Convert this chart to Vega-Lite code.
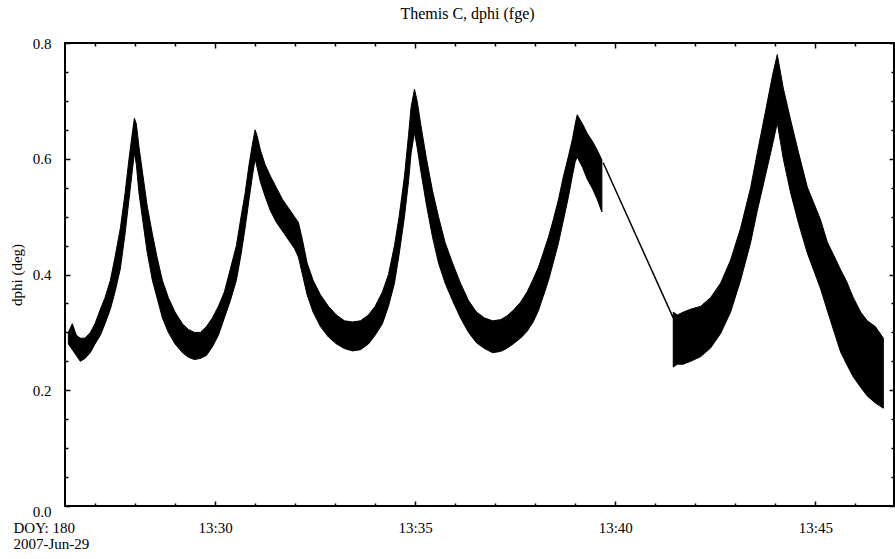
{
  "$schema": "https://vega.github.io/schema/vega-lite/v6.json",
  "width": 829,
  "height": 463,
  "autosize": {"type": "none"},
  "padding": {"left": 65, "top": 43, "right": 1, "bottom": 53},
  "background": "white",
  "title": {"text": "Themis C, dphi (fge)", "font": "Liberation Serif", "fontSize": 16, "fontWeight": "normal", "color": "black", "anchor": "middle", "offset": 14, "dx": -12},
  "config": {
    "font": "Liberation Serif",
    "view": {"stroke": "black", "strokeWidth": 2},
    "axis": {"labelFont": "Liberation Serif", "labelFontSize": 15, "labelColor": "black", "titleFont": "Liberation Serif", "titleFontSize": 15, "titleFontWeight": "normal", "titleColor": "black", "domain": false, "grid": false, "tickColor": "black", "tickWidth": 1.5}
  },
  "datasets": {
    "band": [
      {"segment": "A", "time": "2007-06-29T13:26:20Z", "hi": 0.300, "lo": 0.280},
      {"segment": "A", "time": "2007-06-29T13:26:26Z", "hi": 0.315, "lo": 0.270},
      {"segment": "A", "time": "2007-06-29T13:26:32Z", "hi": 0.295, "lo": 0.260},
      {"segment": "A", "time": "2007-06-29T13:26:38Z", "hi": 0.290, "lo": 0.250},
      {"segment": "A", "time": "2007-06-29T13:26:45Z", "hi": 0.290, "lo": 0.255},
      {"segment": "A", "time": "2007-06-29T13:26:53Z", "hi": 0.300, "lo": 0.265},
      {"segment": "A", "time": "2007-06-29T13:27:00Z", "hi": 0.315, "lo": 0.280},
      {"segment": "A", "time": "2007-06-29T13:27:08Z", "hi": 0.340, "lo": 0.295},
      {"segment": "A", "time": "2007-06-29T13:27:15Z", "hi": 0.360, "lo": 0.315},
      {"segment": "A", "time": "2007-06-29T13:27:23Z", "hi": 0.390, "lo": 0.340},
      {"segment": "A", "time": "2007-06-29T13:27:30Z", "hi": 0.430, "lo": 0.370},
      {"segment": "A", "time": "2007-06-29T13:27:38Z", "hi": 0.480, "lo": 0.410},
      {"segment": "A", "time": "2007-06-29T13:27:45Z", "hi": 0.540, "lo": 0.470},
      {"segment": "A", "time": "2007-06-29T13:27:51Z", "hi": 0.600, "lo": 0.530},
      {"segment": "A", "time": "2007-06-29T13:27:56Z", "hi": 0.645, "lo": 0.580},
      {"segment": "A", "time": "2007-06-29T13:27:59Z", "hi": 0.670, "lo": 0.610},
      {"segment": "A", "time": "2007-06-29T13:28:02Z", "hi": 0.660, "lo": 0.590},
      {"segment": "A", "time": "2007-06-29T13:28:06Z", "hi": 0.620, "lo": 0.540},
      {"segment": "A", "time": "2007-06-29T13:28:12Z", "hi": 0.570, "lo": 0.490},
      {"segment": "A", "time": "2007-06-29T13:28:18Z", "hi": 0.520, "lo": 0.440},
      {"segment": "A", "time": "2007-06-29T13:28:26Z", "hi": 0.470, "lo": 0.390},
      {"segment": "A", "time": "2007-06-29T13:28:33Z", "hi": 0.430, "lo": 0.360},
      {"segment": "A", "time": "2007-06-29T13:28:41Z", "hi": 0.390, "lo": 0.325},
      {"segment": "A", "time": "2007-06-29T13:28:50Z", "hi": 0.360, "lo": 0.300},
      {"segment": "A", "time": "2007-06-29T13:29:00Z", "hi": 0.335, "lo": 0.280},
      {"segment": "A", "time": "2007-06-29T13:29:11Z", "hi": 0.315, "lo": 0.265},
      {"segment": "A", "time": "2007-06-29T13:29:20Z", "hi": 0.305, "lo": 0.257},
      {"segment": "A", "time": "2007-06-29T13:29:29Z", "hi": 0.300, "lo": 0.253},
      {"segment": "A", "time": "2007-06-29T13:29:38Z", "hi": 0.300, "lo": 0.255},
      {"segment": "A", "time": "2007-06-29T13:29:47Z", "hi": 0.310, "lo": 0.260},
      {"segment": "A", "time": "2007-06-29T13:29:56Z", "hi": 0.325, "lo": 0.275},
      {"segment": "A", "time": "2007-06-29T13:30:05Z", "hi": 0.345, "lo": 0.295},
      {"segment": "A", "time": "2007-06-29T13:30:14Z", "hi": 0.370, "lo": 0.325},
      {"segment": "A", "time": "2007-06-29T13:30:23Z", "hi": 0.410, "lo": 0.355},
      {"segment": "A", "time": "2007-06-29T13:30:32Z", "hi": 0.450, "lo": 0.390},
      {"segment": "A", "time": "2007-06-29T13:30:39Z", "hi": 0.500, "lo": 0.435},
      {"segment": "A", "time": "2007-06-29T13:30:45Z", "hi": 0.540, "lo": 0.480},
      {"segment": "A", "time": "2007-06-29T13:30:51Z", "hi": 0.590, "lo": 0.530},
      {"segment": "A", "time": "2007-06-29T13:30:56Z", "hi": 0.625, "lo": 0.570},
      {"segment": "A", "time": "2007-06-29T13:31:00Z", "hi": 0.650, "lo": 0.600},
      {"segment": "A", "time": "2007-06-29T13:31:03Z", "hi": 0.640, "lo": 0.585},
      {"segment": "A", "time": "2007-06-29T13:31:08Z", "hi": 0.615, "lo": 0.560},
      {"segment": "A", "time": "2007-06-29T13:31:15Z", "hi": 0.590, "lo": 0.535},
      {"segment": "A", "time": "2007-06-29T13:31:23Z", "hi": 0.570, "lo": 0.510},
      {"segment": "A", "time": "2007-06-29T13:31:32Z", "hi": 0.550, "lo": 0.490},
      {"segment": "A", "time": "2007-06-29T13:31:41Z", "hi": 0.530, "lo": 0.475},
      {"segment": "A", "time": "2007-06-29T13:31:50Z", "hi": 0.515, "lo": 0.460},
      {"segment": "A", "time": "2007-06-29T13:31:59Z", "hi": 0.500, "lo": 0.445},
      {"segment": "A", "time": "2007-06-29T13:32:05Z", "hi": 0.490, "lo": 0.430},
      {"segment": "A", "time": "2007-06-29T13:32:11Z", "hi": 0.460, "lo": 0.400},
      {"segment": "A", "time": "2007-06-29T13:32:18Z", "hi": 0.420, "lo": 0.365},
      {"segment": "A", "time": "2007-06-29T13:32:27Z", "hi": 0.390, "lo": 0.335},
      {"segment": "A", "time": "2007-06-29T13:32:38Z", "hi": 0.365, "lo": 0.310},
      {"segment": "A", "time": "2007-06-29T13:32:50Z", "hi": 0.345, "lo": 0.292},
      {"segment": "A", "time": "2007-06-29T13:33:02Z", "hi": 0.330, "lo": 0.280},
      {"segment": "A", "time": "2007-06-29T13:33:14Z", "hi": 0.320, "lo": 0.272},
      {"segment": "A", "time": "2007-06-29T13:33:26Z", "hi": 0.318, "lo": 0.268},
      {"segment": "A", "time": "2007-06-29T13:33:38Z", "hi": 0.320, "lo": 0.270},
      {"segment": "A", "time": "2007-06-29T13:33:50Z", "hi": 0.330, "lo": 0.280},
      {"segment": "A", "time": "2007-06-29T13:34:00Z", "hi": 0.345, "lo": 0.295},
      {"segment": "A", "time": "2007-06-29T13:34:11Z", "hi": 0.370, "lo": 0.315},
      {"segment": "A", "time": "2007-06-29T13:34:20Z", "hi": 0.400, "lo": 0.345},
      {"segment": "A", "time": "2007-06-29T13:34:29Z", "hi": 0.450, "lo": 0.385},
      {"segment": "A", "time": "2007-06-29T13:34:36Z", "hi": 0.500, "lo": 0.435},
      {"segment": "A", "time": "2007-06-29T13:34:44Z", "hi": 0.570, "lo": 0.500},
      {"segment": "A", "time": "2007-06-29T13:34:50Z", "hi": 0.640, "lo": 0.560},
      {"segment": "A", "time": "2007-06-29T13:34:54Z", "hi": 0.690, "lo": 0.610},
      {"segment": "A", "time": "2007-06-29T13:34:59Z", "hi": 0.720, "lo": 0.645},
      {"segment": "A", "time": "2007-06-29T13:35:03Z", "hi": 0.700, "lo": 0.620},
      {"segment": "A", "time": "2007-06-29T13:35:09Z", "hi": 0.655, "lo": 0.575},
      {"segment": "A", "time": "2007-06-29T13:35:17Z", "hi": 0.600, "lo": 0.520},
      {"segment": "A", "time": "2007-06-29T13:35:26Z", "hi": 0.545, "lo": 0.465},
      {"segment": "A", "time": "2007-06-29T13:35:35Z", "hi": 0.500, "lo": 0.420},
      {"segment": "A", "time": "2007-06-29T13:35:45Z", "hi": 0.455, "lo": 0.385},
      {"segment": "A", "time": "2007-06-29T13:35:56Z", "hi": 0.420, "lo": 0.355},
      {"segment": "A", "time": "2007-06-29T13:36:08Z", "hi": 0.385, "lo": 0.325},
      {"segment": "A", "time": "2007-06-29T13:36:20Z", "hi": 0.355, "lo": 0.300},
      {"segment": "A", "time": "2007-06-29T13:36:32Z", "hi": 0.335, "lo": 0.282},
      {"segment": "A", "time": "2007-06-29T13:36:44Z", "hi": 0.325, "lo": 0.272},
      {"segment": "A", "time": "2007-06-29T13:36:56Z", "hi": 0.320, "lo": 0.265},
      {"segment": "A", "time": "2007-06-29T13:37:08Z", "hi": 0.322, "lo": 0.267},
      {"segment": "A", "time": "2007-06-29T13:37:17Z", "hi": 0.328, "lo": 0.272},
      {"segment": "A", "time": "2007-06-29T13:37:27Z", "hi": 0.338, "lo": 0.280},
      {"segment": "A", "time": "2007-06-29T13:37:38Z", "hi": 0.352, "lo": 0.290},
      {"segment": "A", "time": "2007-06-29T13:37:48Z", "hi": 0.370, "lo": 0.302},
      {"segment": "A", "time": "2007-06-29T13:37:57Z", "hi": 0.392, "lo": 0.318},
      {"segment": "A", "time": "2007-06-29T13:38:05Z", "hi": 0.413, "lo": 0.338},
      {"segment": "A", "time": "2007-06-29T13:38:12Z", "hi": 0.437, "lo": 0.362},
      {"segment": "A", "time": "2007-06-29T13:38:20Z", "hi": 0.465, "lo": 0.390},
      {"segment": "A", "time": "2007-06-29T13:38:27Z", "hi": 0.494, "lo": 0.420},
      {"segment": "A", "time": "2007-06-29T13:38:35Z", "hi": 0.530, "lo": 0.455},
      {"segment": "A", "time": "2007-06-29T13:38:42Z", "hi": 0.568, "lo": 0.492},
      {"segment": "A", "time": "2007-06-29T13:38:50Z", "hi": 0.605, "lo": 0.535},
      {"segment": "A", "time": "2007-06-29T13:38:56Z", "hi": 0.635, "lo": 0.572},
      {"segment": "A", "time": "2007-06-29T13:39:00Z", "hi": 0.660, "lo": 0.595},
      {"segment": "A", "time": "2007-06-29T13:39:03Z", "hi": 0.676, "lo": 0.603},
      {"segment": "A", "time": "2007-06-29T13:39:11Z", "hi": 0.660, "lo": 0.585},
      {"segment": "A", "time": "2007-06-29T13:39:18Z", "hi": 0.644, "lo": 0.565},
      {"segment": "A", "time": "2007-06-29T13:39:26Z", "hi": 0.630, "lo": 0.548},
      {"segment": "A", "time": "2007-06-29T13:39:33Z", "hi": 0.615, "lo": 0.530},
      {"segment": "A", "time": "2007-06-29T13:39:40Z", "hi": 0.598, "lo": 0.508},
      {"segment": "B", "time": "2007-06-29T13:41:27Z", "hi": 0.335, "lo": 0.240},
      {"segment": "B", "time": "2007-06-29T13:41:33Z", "hi": 0.330, "lo": 0.245},
      {"segment": "B", "time": "2007-06-29T13:41:42Z", "hi": 0.335, "lo": 0.245},
      {"segment": "B", "time": "2007-06-29T13:41:53Z", "hi": 0.340, "lo": 0.250},
      {"segment": "B", "time": "2007-06-29T13:42:08Z", "hi": 0.345, "lo": 0.258},
      {"segment": "B", "time": "2007-06-29T13:42:23Z", "hi": 0.360, "lo": 0.273},
      {"segment": "B", "time": "2007-06-29T13:42:38Z", "hi": 0.385, "lo": 0.298},
      {"segment": "B", "time": "2007-06-29T13:42:53Z", "hi": 0.425, "lo": 0.335},
      {"segment": "B", "time": "2007-06-29T13:43:08Z", "hi": 0.480, "lo": 0.390},
      {"segment": "B", "time": "2007-06-29T13:43:23Z", "hi": 0.550, "lo": 0.455},
      {"segment": "B", "time": "2007-06-29T13:43:33Z", "hi": 0.610, "lo": 0.510},
      {"segment": "B", "time": "2007-06-29T13:43:45Z", "hi": 0.680, "lo": 0.570},
      {"segment": "B", "time": "2007-06-29T13:43:56Z", "hi": 0.745, "lo": 0.625},
      {"segment": "B", "time": "2007-06-29T13:44:03Z", "hi": 0.780, "lo": 0.662},
      {"segment": "B", "time": "2007-06-29T13:44:12Z", "hi": 0.722, "lo": 0.600},
      {"segment": "B", "time": "2007-06-29T13:44:23Z", "hi": 0.667, "lo": 0.541},
      {"segment": "B", "time": "2007-06-29T13:44:35Z", "hi": 0.610, "lo": 0.488},
      {"segment": "B", "time": "2007-06-29T13:44:48Z", "hi": 0.551, "lo": 0.437},
      {"segment": "B", "time": "2007-06-29T13:44:59Z", "hi": 0.520, "lo": 0.403},
      {"segment": "B", "time": "2007-06-29T13:45:08Z", "hi": 0.494, "lo": 0.375},
      {"segment": "B", "time": "2007-06-29T13:45:18Z", "hi": 0.456, "lo": 0.338},
      {"segment": "B", "time": "2007-06-29T13:45:29Z", "hi": 0.430, "lo": 0.298},
      {"segment": "B", "time": "2007-06-29T13:45:38Z", "hi": 0.408, "lo": 0.266},
      {"segment": "B", "time": "2007-06-29T13:45:47Z", "hi": 0.388, "lo": 0.245},
      {"segment": "B", "time": "2007-06-29T13:45:57Z", "hi": 0.360, "lo": 0.223},
      {"segment": "B", "time": "2007-06-29T13:46:08Z", "hi": 0.335, "lo": 0.205},
      {"segment": "B", "time": "2007-06-29T13:46:18Z", "hi": 0.320, "lo": 0.190},
      {"segment": "B", "time": "2007-06-29T13:46:30Z", "hi": 0.310, "lo": 0.178},
      {"segment": "B", "time": "2007-06-29T13:46:42Z", "hi": 0.290, "lo": 0.169}
    ],
    "gap": [
      {"time": "2007-06-29T13:39:42Z", "dphi": 0.593},
      {"time": "2007-06-29T13:41:27Z", "dphi": 0.325}
    ]
  },
  "resolve": {"axis": {"x": "independent", "y": "independent"}},
  "layer": [
    {
      "data": {"name": "band"},
      "mark": {"type": "area", "color": "black", "stroke": "black", "strokeWidth": 1},
      "encoding": {
        "x": {"field": "time", "type": "temporal",
          "scale": {"type": "utc", "nice": false, "domain": [{"year": 2007, "month": 6, "date": 29, "hours": 13, "minutes": 26, "seconds": 15, "utc": true}, {"year": 2007, "month": 6, "date": 29, "hours": 13, "minutes": 46, "seconds": 58, "utc": true}]},
          "axis": {"orient": "bottom", "format": "%H:%M", "tickSize": -5, "labelPadding": 19,
            "values": [{"year": 2007, "month": 6, "date": 29, "hours": 13, "minutes": 30, "utc": true}, {"year": 2007, "month": 6, "date": 29, "hours": 13, "minutes": 35, "utc": true}, {"year": 2007, "month": 6, "date": 29, "hours": 13, "minutes": 40, "utc": true}, {"year": 2007, "month": 6, "date": 29, "hours": 13, "minutes": 45, "utc": true}],
            "title": ["DOY: 180", "2007-Jun-29"], "titleAnchor": "start", "titleAlign": "left", "titleX": -52, "titleY": 14, "titleBaseline": "top", "titleLineHeight": 16}},
        "y": {"field": "hi", "type": "quantitative",
          "scale": {"domain": [0, 0.8], "nice": false, "zero": false},
          "axis": {"orient": "left", "values": [0, 0.2, 0.4, 0.6, 0.8], "format": ".1f", "tickSize": -5, "labelPadding": 19, "labelOffset": {"condition": {"test": "datum.value === 0", "value": 5}, "value": 0}, "title": "dphi (deg)", "titlePadding": 8}},
        "y2": {"field": "lo"},
        "detail": {"field": "segment"}
      }
    },
    {
      "data": {"name": "gap"},
      "mark": {"type": "line", "color": "black", "strokeWidth": 1.5},
      "encoding": {
        "x": {"field": "time", "type": "temporal",
          "scale": {"type": "utc", "nice": false, "domain": [{"year": 2007, "month": 6, "date": 29, "hours": 13, "minutes": 26, "seconds": 15, "utc": true}, {"year": 2007, "month": 6, "date": 29, "hours": 13, "minutes": 46, "seconds": 58, "utc": true}]},
          "axis": {"orient": "top", "labels": false, "tickSize": -5, "title": null,
            "values": [{"year": 2007, "month": 6, "date": 29, "hours": 13, "minutes": 30, "utc": true}, {"year": 2007, "month": 6, "date": 29, "hours": 13, "minutes": 35, "utc": true}, {"year": 2007, "month": 6, "date": 29, "hours": 13, "minutes": 40, "utc": true}, {"year": 2007, "month": 6, "date": 29, "hours": 13, "minutes": 45, "utc": true}]}},
        "y": {"field": "dphi", "type": "quantitative",
          "scale": {"domain": [0, 0.8], "nice": false, "zero": false},
          "axis": {"orient": "right", "values": [0, 0.2, 0.4, 0.6, 0.8], "labels": false, "tickSize": -5, "title": null}}
      }
    },
    {
      "data": {"name": "gap"},
      "mark": {"type": "line", "opacity": 0},
      "encoding": {
        "x": {"field": "time", "type": "temporal",
          "scale": {"type": "utc", "nice": false, "domain": [{"year": 2007, "month": 6, "date": 29, "hours": 13, "minutes": 26, "seconds": 15, "utc": true}, {"year": 2007, "month": 6, "date": 29, "hours": 13, "minutes": 46, "seconds": 58, "utc": true}]},
          "axis": {"orient": "bottom", "labels": false, "tickSize": -3, "title": null,
            "values": [{"year": 2007, "month": 6, "date": 29, "hours": 13, "minutes": 27, "utc": true}, {"year": 2007, "month": 6, "date": 29, "hours": 13, "minutes": 28, "utc": true}, {"year": 2007, "month": 6, "date": 29, "hours": 13, "minutes": 29, "utc": true}, {"year": 2007, "month": 6, "date": 29, "hours": 13, "minutes": 31, "utc": true}, {"year": 2007, "month": 6, "date": 29, "hours": 13, "minutes": 32, "utc": true}, {"year": 2007, "month": 6, "date": 29, "hours": 13, "minutes": 33, "utc": true}, {"year": 2007, "month": 6, "date": 29, "hours": 13, "minutes": 34, "utc": true}, {"year": 2007, "month": 6, "date": 29, "hours": 13, "minutes": 36, "utc": true}, {"year": 2007, "month": 6, "date": 29, "hours": 13, "minutes": 37, "utc": true}, {"year": 2007, "month": 6, "date": 29, "hours": 13, "minutes": 38, "utc": true}, {"year": 2007, "month": 6, "date": 29, "hours": 13, "minutes": 39, "utc": true}, {"year": 2007, "month": 6, "date": 29, "hours": 13, "minutes": 41, "utc": true}, {"year": 2007, "month": 6, "date": 29, "hours": 13, "minutes": 42, "utc": true}, {"year": 2007, "month": 6, "date": 29, "hours": 13, "minutes": 43, "utc": true}, {"year": 2007, "month": 6, "date": 29, "hours": 13, "minutes": 44, "utc": true}, {"year": 2007, "month": 6, "date": 29, "hours": 13, "minutes": 46, "utc": true}]}},
        "y": {"field": "dphi", "type": "quantitative",
          "scale": {"domain": [0, 0.8], "nice": false, "zero": false},
          "axis": {"orient": "left", "values": [0.05, 0.1, 0.15, 0.25, 0.3, 0.35, 0.45, 0.5, 0.55, 0.65, 0.7, 0.75], "labels": false, "tickSize": -3, "title": null}}
      }
    },
    {
      "data": {"name": "gap"},
      "mark": {"type": "line", "opacity": 0},
      "encoding": {
        "x": {"field": "time", "type": "temporal",
          "scale": {"type": "utc", "nice": false, "domain": [{"year": 2007, "month": 6, "date": 29, "hours": 13, "minutes": 26, "seconds": 15, "utc": true}, {"year": 2007, "month": 6, "date": 29, "hours": 13, "minutes": 46, "seconds": 58, "utc": true}]},
          "axis": {"orient": "top", "labels": false, "tickSize": -3, "title": null,
            "values": [{"year": 2007, "month": 6, "date": 29, "hours": 13, "minutes": 27, "utc": true}, {"year": 2007, "month": 6, "date": 29, "hours": 13, "minutes": 28, "utc": true}, {"year": 2007, "month": 6, "date": 29, "hours": 13, "minutes": 29, "utc": true}, {"year": 2007, "month": 6, "date": 29, "hours": 13, "minutes": 31, "utc": true}, {"year": 2007, "month": 6, "date": 29, "hours": 13, "minutes": 32, "utc": true}, {"year": 2007, "month": 6, "date": 29, "hours": 13, "minutes": 33, "utc": true}, {"year": 2007, "month": 6, "date": 29, "hours": 13, "minutes": 34, "utc": true}, {"year": 2007, "month": 6, "date": 29, "hours": 13, "minutes": 36, "utc": true}, {"year": 2007, "month": 6, "date": 29, "hours": 13, "minutes": 37, "utc": true}, {"year": 2007, "month": 6, "date": 29, "hours": 13, "minutes": 38, "utc": true}, {"year": 2007, "month": 6, "date": 29, "hours": 13, "minutes": 39, "utc": true}, {"year": 2007, "month": 6, "date": 29, "hours": 13, "minutes": 41, "utc": true}, {"year": 2007, "month": 6, "date": 29, "hours": 13, "minutes": 42, "utc": true}, {"year": 2007, "month": 6, "date": 29, "hours": 13, "minutes": 43, "utc": true}, {"year": 2007, "month": 6, "date": 29, "hours": 13, "minutes": 44, "utc": true}, {"year": 2007, "month": 6, "date": 29, "hours": 13, "minutes": 46, "utc": true}]}},
        "y": {"field": "dphi", "type": "quantitative",
          "scale": {"domain": [0, 0.8], "nice": false, "zero": false},
          "axis": {"orient": "right", "values": [0.05, 0.1, 0.15, 0.25, 0.3, 0.35, 0.45, 0.5, 0.55, 0.65, 0.7, 0.75], "labels": false, "tickSize": -3, "title": null}}
      }
    }
  ]
}
